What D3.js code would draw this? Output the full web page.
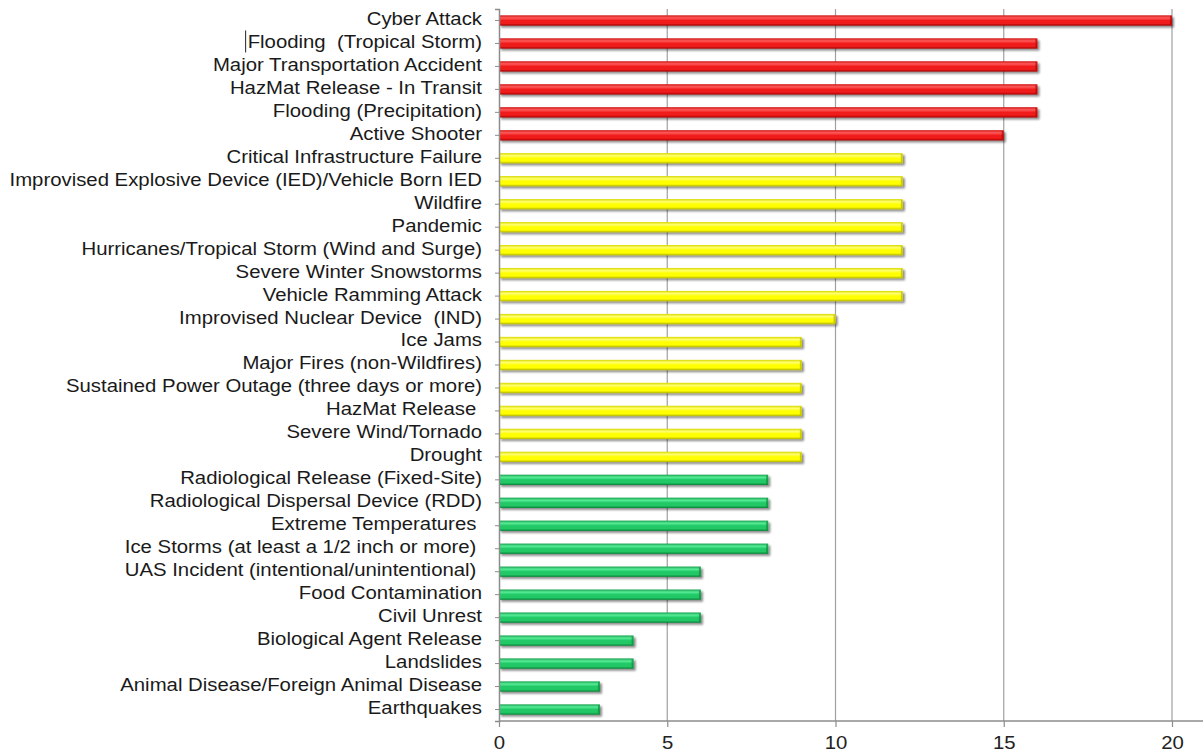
<!DOCTYPE html>
<html><head><meta charset="utf-8">
<script src="https://cdn.jsdelivr.net/npm/d3@7"></script>
<style>html,body{margin:0;padding:0;background:#fff;}svg{display:block;}</style>
</head><body>
<svg id="c" width="1203" height="751"></svg>
<script>
const categories = [
  "Cyber Attack","Flooding  (Tropical Storm)","Major Transportation Accident","HazMat Release - In Transit",
  "Flooding (Precipitation)","Active Shooter","Critical Infrastructure Failure",
  "Improvised Explosive Device (IED)/Vehicle Born IED","Wildfire","Pandemic",
  "Hurricanes/Tropical Storm (Wind and Surge)","Severe Winter Snowstorms","Vehicle Ramming Attack",
  "Improvised Nuclear Device  (IND)","Ice Jams","Major Fires (non-Wildfires)",
  "Sustained Power Outage (three days or more)","HazMat Release ","Severe Wind/Tornado","Drought",
  "Radiological Release (Fixed-Site)","Radiological Dispersal Device (RDD)","Extreme Temperatures ",
  "Ice Storms (at least a 1/2 inch or more) ","UAS Incident (intentional/unintentional) ",
  "Food Contamination","Civil Unrest","Biological Agent Release","Landslides",
  "Animal Disease/Foreign Animal Disease","Earthquakes"
];
const values = [20,16,16,16,16,15,12,12,12,12,12,12,12,10,9,9,9,9,9,9,8,8,8,8,6,6,6,4,4,3,3];
const tiers  = ["high","high","high","high","high","high","mid","mid","mid","mid","mid","mid","mid","mid",
                "mid","mid","mid","mid","mid","mid","low","low","low","low","low","low","low","low","low","low","low"];
const xTicks = [0,5,10,15,20];

const tierColors = {
  high: {top:"#d01414", hi:"#ff5a5a", mid:"#f01c1c", bot:"#a00000", end:"#a80808"},
  mid:  {top:"#d8d800", hi:"#ffff70", mid:"#ffff00", bot:"#b0b000", end:"#b8b800"},
  low:  {top:"#14a04c", hi:"#58ec98", mid:"#20c865", bot:"#0a8238", end:"#0e8a3e"}
};

const svg = d3.select("#c");
const x0 = 499, x1 = 1172, yTop = 9, yBot = 721;
const SX = 1.1;
const x = d3.scaleLinear().domain([0,20]).range([x0,x1]);
const y = d3.scaleBand().domain(categories).range([yTop,yBot]).paddingInner(0.55).paddingOuter(0.275);

const defs = svg.append("defs");
Object.entries(tierColors).forEach(([k,c])=>{
  const g = defs.append("linearGradient").attr("id","g_"+k).attr("x1",0).attr("y1",0).attr("x2",0).attr("y2",1);
  g.append("stop").attr("offset","0%").attr("stop-color",c.top);
  g.append("stop").attr("offset","25%").attr("stop-color",c.hi);
  g.append("stop").attr("offset","50%").attr("stop-color",c.mid);
  g.append("stop").attr("offset","78%").attr("stop-color",c.mid);
  g.append("stop").attr("offset","100%").attr("stop-color",c.bot);
});
const f = defs.append("filter").attr("id","sh").attr("x","-5%").attr("y","-50%").attr("width","110%").attr("height","250%");
f.append("feGaussianBlur").attr("in","SourceAlpha").attr("stdDeviation",1.3).attr("result","b");
f.append("feOffset").attr("in","b").attr("dx",1.5).attr("dy",2).attr("result","o");
f.append("feComponentTransfer").attr("in","o").attr("result","o2").append("feFuncA").attr("type","linear").attr("slope",0.45);
const m = f.append("feMerge");
m.append("feMergeNode").attr("in","o2");
m.append("feMergeNode").attr("in","SourceGraphic");

// gridlines
svg.append("g").selectAll("line").data(xTicks.filter(d=>d>0)).join("line")
  .attr("x1",d=>x(d)).attr("x2",d=>x(d)).attr("y1",yTop).attr("y2",yBot)
  .attr("stroke","#a0a0a0").attr("stroke-width",1.2);

// bars
const bars = svg.append("g").selectAll("g").data(categories).join("g").attr("filter","url(#sh)");
bars.append("rect")
  .attr("x",x0).attr("y",d=>y(d)).attr("height",y.bandwidth())
  .attr("width",(d,i)=>x(values[i])-x0)
  .attr("fill",(d,i)=>"url(#g_"+tiers[i]+")");
bars.append("rect")
  .attr("x",(d,i)=>x(values[i])-2).attr("y",d=>y(d)+1).attr("height",y.bandwidth()-2).attr("width",2)
  .attr("fill",(d,i)=>tierColors[tiers[i]].end).attr("opacity",0.7);

// x axis
const xa = svg.append("g").attr("transform",`translate(0,${yBot})`)
  .call(d3.axisBottom(x).tickValues(xTicks).tickSize(6).tickSizeOuter(0));
xa.select(".domain").remove();
xa.append("line").attr("x1",x0).attr("x2",1203).attr("y1",0).attr("y2",0).attr("stroke","#8c8c8c").attr("stroke-width",1.5);
xa.selectAll(".tick line").attr("stroke","#8c8c8c").attr("stroke-width",1.2);
xa.selectAll(".tick text").attr("font-family","Liberation Sans, Arial, sans-serif").attr("font-size",18.5)
  .attr("fill","#222").attr("dy","0.95em").attr("y",10).attr("transform",`scale(${SX},1)`);

// y axis
const ya = svg.append("g").attr("transform",`translate(${x0},0)`)
  .call(d3.axisLeft(y).tickSize(4).tickSizeOuter(4).tickPadding(13));
ya.select(".domain").attr("stroke","#8c8c8c").attr("stroke-width",1.5);
ya.selectAll(".tick line").attr("stroke","#8c8c8c");
ya.selectAll(".tick text").attr("font-family","Liberation Sans, Arial, sans-serif").attr("font-size",18.5)
  .attr("fill","#1a1a1a").style("white-space","pre").attr("xml:space","preserve")
  .attr("dy","0.24em")
  .attr("x",-17/SX).attr("transform",`scale(${SX},1)`);

// text cursor artifact before "Flooding  (Tropical Storm)"
const fl = ya.selectAll(".tick").filter(d=>d===categories[1]).select("text");
const bb = fl.node().getBBox();
ya.append("line").attr("x1",bb.x*SX-2).attr("x2",bb.x*SX-2)
  .attr("y1",y(categories[1])+y.bandwidth()/2-13).attr("y2",y(categories[1])+y.bandwidth()/2+9)
  .attr("stroke","#222").attr("stroke-width",1);
</script>
</body></html>
